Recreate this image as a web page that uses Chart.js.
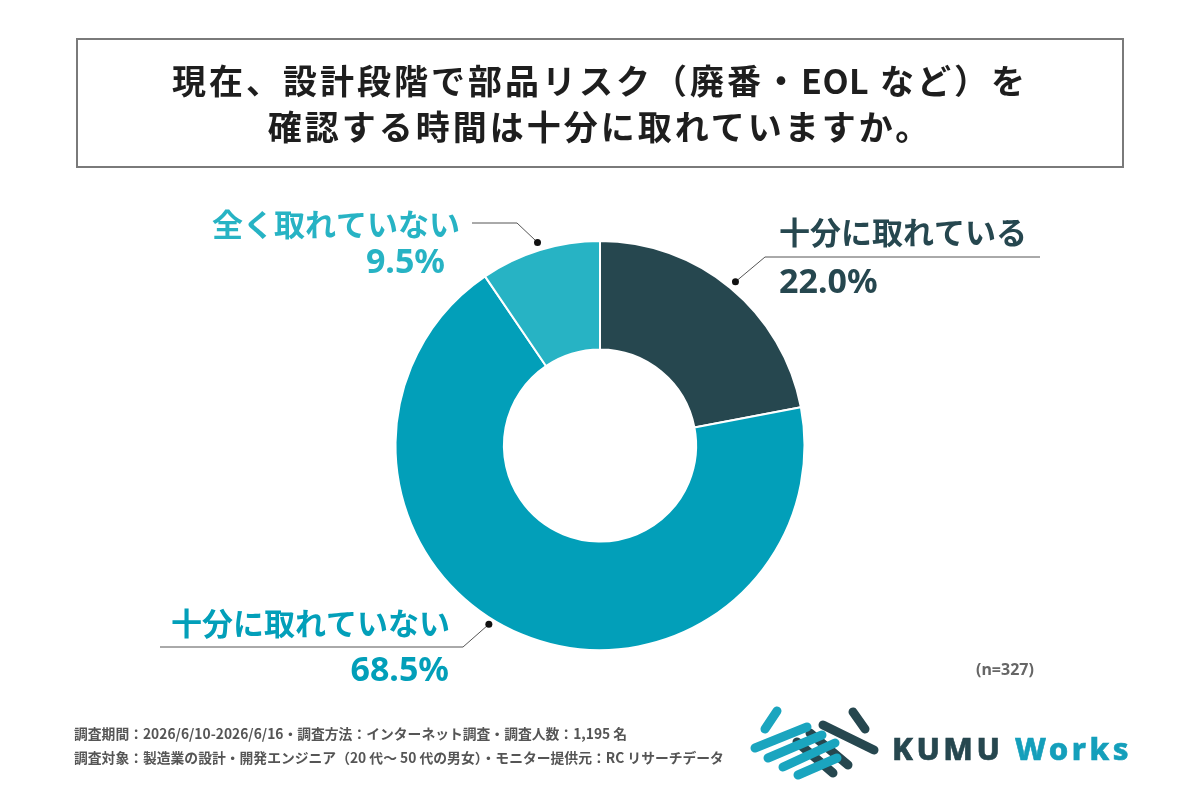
<!DOCTYPE html>
<html lang="ja">
<head>
<meta charset="utf-8">
<title>部品リスク確認時間</title>
<script src="https://cdn.jsdelivr.net/npm/chart.js@4"></script>
<style>
  html, body { margin: 0; padding: 0; background: #fff; }
  body { width: 1200px; height: 800px; position: relative; overflow: hidden;
         font-family: "Noto Sans CJK JP", "Noto Sans", sans-serif; }
  #chart { position: absolute; left: 0; top: 0; width: 1200px; height: 800px; }
  .title-box { position: absolute; left: 76px; top: 38px; width: 1048px; height: 130px;
               box-sizing: border-box; border: 2px solid #7a7a7a; }
  .title-line { position: absolute; left: 0; width: 100%; text-align: center;
                font-size: 34px; font-weight: 700; color: #1e1e1e; line-height: 40px;
                letter-spacing: 3px; }
  .title-line .latin { letter-spacing: 0.5px; }
  .foot { position: absolute; left: 74px; font-size: 13.8px; font-weight: 700; color: #555;
          line-height: 18px; white-space: nowrap; }
  .n-note { position: absolute; left: 976px; top: 658px; font-size: 16px; font-weight: 700;
            color: #666; font-family: "Noto Sans", sans-serif; }
  .logo-text { position: absolute; left: 892px; top: 727px; font-family: "Noto Sans", sans-serif;
               font-size: 31px; font-weight: 800; letter-spacing: 3.5px; white-space: nowrap;
               -webkit-text-stroke: 0.6px currentColor; }
  .logo-text .k { color: #26474f; }
  .logo-text .w { color: #149fbb; }
  svg.logo { position: absolute; left: 740px; top: 695px; }
</style>
</head>
<body>
<canvas id="chart" width="1200" height="800"></canvas>

<div class="title-box">
  <div class="title-line" style="top:20px">現在、設計段階で部品リスク（廃番・<span class="latin">EOL</span> など）を</div>
  <div class="title-line" style="top:66px">確認する時間は十分に取れていますか。</div>
</div>

<div class="n-note">(n=327)</div>
<div class="foot" style="top:724px">調査期間：2026/6/10-2026/6/16・調査方法：インターネット調査・調査人数：1,195 名</div>
<div class="foot" style="top:748px">調査対象：製造業の設計・開発エンジニア（20 代～ 50 代の男女）・モニター提供元：RC リサーチデータ</div>

<svg class="logo" width="150" height="95" viewBox="0 0 150 95">
  <g stroke-linecap="round" stroke-width="9" fill="none">
    <line x1="83" y1="30" x2="134" y2="55" stroke="#26474f"/>
    <line x1="113" y1="17" x2="125" y2="34" stroke="#26474f"/>
    <line x1="70" y1="38" x2="108" y2="70" stroke="#26474f"/>
    <line x1="57" y1="47" x2="93" y2="78" stroke="#26474f"/>
    <line x1="37" y1="16" x2="25" y2="34" stroke="#1aa5bf"/>
    <line x1="15" y1="53" x2="67" y2="32" stroke="#1aa5bf"/>
    <line x1="28" y1="63" x2="82" y2="40" stroke="#1aa5bf"/>
    <line x1="43" y1="72" x2="95" y2="48" stroke="#1aa5bf"/>
    <line x1="58" y1="80" x2="97" y2="63" stroke="#1aa5bf"/>
  </g>
</svg>
<div class="logo-text"><span class="k">KUMU</span> <span class="w">Works</span></div>

<script>
// data
const categories = ['十分に取れている', '十分に取れていない', '全く取れていない'];
const shares = [22.0, 68.5, 9.5];
const sliceColors = ['#26474f', '#029fb9', '#27b3c4'];

// where each callout sits (anchor = fraction along the slice)
const callouts = [
  { anchor: 0.5, gap: 8, elbow: [765, 257], end: 1040, align: 'left',
    textX: 779, textY: 232, pctX: 779, pctY: 283 },
  { anchor: 0.538, gap: 6, elbow: [463, 647], end: 160, align: 'right',
    textX: 450, textY: 623, pctX: 449, pctY: 671 },
  { anchor: 0.5, gap: 8, elbow: [517, 223], end: 472, align: 'right',
    textX: 460, textY: 224, pctX: 445, pctY: 263 },
];

const calloutPlugin = {
  id: 'callouts',
  afterDatasetsDraw(chart) {
    const ctx = chart.ctx;
    const meta = chart.getDatasetMeta(0);
    meta.data.forEach((arc, i) => {
      const c = callouts[i];
      const p = arc.getProps(['x', 'y', 'startAngle', 'endAngle', 'outerRadius'], true);
      const a = p.startAngle + (p.endAngle - p.startAngle) * c.anchor;
      const r = p.outerRadius + c.gap;
      const dx = p.x + Math.cos(a) * r;
      const dy = p.y + Math.sin(a) * r;

      ctx.save();
      ctx.strokeStyle = '#555';
      ctx.lineWidth = 1;
      ctx.beginPath();
      ctx.moveTo(dx, dy);
      ctx.lineTo(c.elbow[0], c.elbow[1]);
      ctx.lineTo(c.end, c.elbow[1]);
      ctx.stroke();
      ctx.fillStyle = '#111';
      ctx.beginPath();
      ctx.arc(dx, dy, 3.5, 0, Math.PI * 2);
      ctx.fill();

      ctx.fillStyle = sliceColors[i];
      ctx.textAlign = c.align;
      ctx.textBaseline = 'middle';
      ctx.font = '700 31px "Noto Sans CJK JP", sans-serif';
      ctx.fillText(categories[i], c.textX, c.textY);
      ctx.font = '700 34px "Noto Sans", sans-serif';
      ctx.fillText(`${shares[i].toFixed(1)}%`, c.pctX, c.pctY);
      ctx.restore();
    });
  },
};

new Chart(document.getElementById('chart').getContext('2d'), {
  type: 'doughnut',
  data: {
    labels: categories,
    datasets: [
      {
        data: shares,
        backgroundColor: sliceColors,
        borderColor: '#ffffff',
        borderWidth: 2,
      },
    ],
  },
  options: {
    responsive: false,
    animation: false,
    cutout: '47%',
    layout: { padding: { top: 240, bottom: 149, left: 0, right: 0 } },
    plugins: {
      legend: { display: false },
      tooltip: { enabled: false },
    },
  },
  plugins: [calloutPlugin],
});
</script>
</body>
</html>
